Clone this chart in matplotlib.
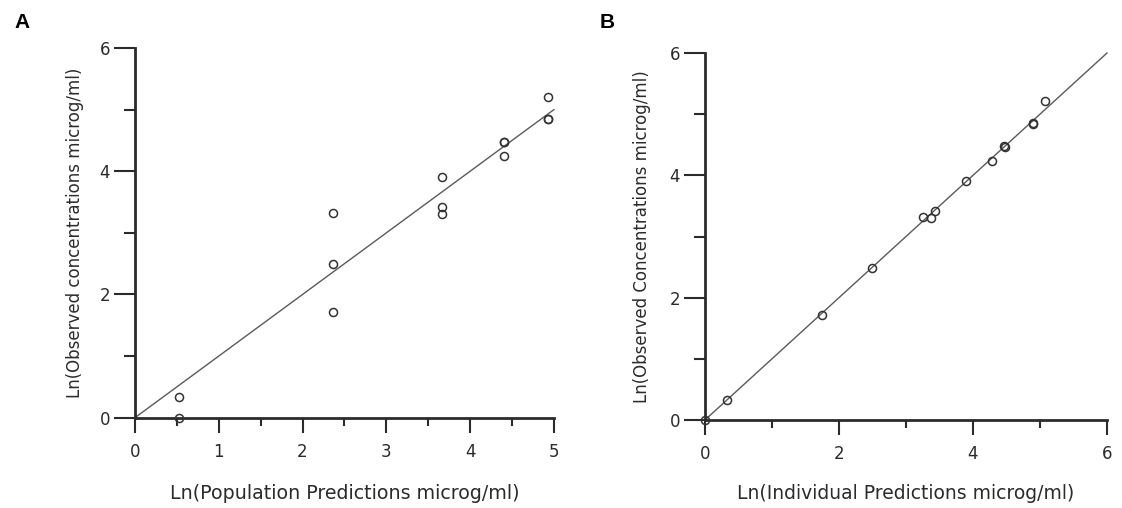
import numpy as np
import matplotlib.pyplot as plt
from matplotlib.ticker import MultipleLocator

# log observed concentrations, shared by both panels
observed = [0.33, 0.0, 3.32, 2.49, 1.72, 3.91, 3.42, 3.31, 4.48, 4.47, 4.24, 5.21, 4.85, 4.84]
# population (typical value) predictions
pop_pred = [0.53, 0.53, 2.36, 2.36, 2.36, 3.67, 3.67, 3.67, 4.41, 4.41, 4.41, 4.93, 4.93, 4.93]
# individual (post hoc) predictions
ind_pred = [0.33, 0.0, 3.26, 2.49, 1.74, 3.89, 3.44, 3.37, 4.47, 4.48, 4.29, 5.08, 4.89, 4.90]

ink = "#2b2b2b"
plt.rcParams["font.family"] = ["DejaVu Sans"]
plt.rcParams["text.color"] = ink

fig = plt.figure(figsize=(11.22, 5.08), dpi=100)
ax_a = fig.add_axes([0.1203, 0.1778, 0.3734, 0.7277])
ax_b = fig.add_axes([0.6283, 0.1732, 0.3583, 0.7224])


def style(ax, xmax, xmajor, xminor):
    ax.set_xlim(0, xmax)
    ax.set_ylim(0, 6)
    ax.xaxis.set_major_locator(MultipleLocator(xmajor))
    ax.xaxis.set_minor_locator(MultipleLocator(xminor))
    ax.yaxis.set_major_locator(MultipleLocator(2))
    ax.yaxis.set_minor_locator(MultipleLocator(1))
    for s in ["top", "right"]:
        ax.spines[s].set_visible(False)
    for s in ["left", "bottom"]:
        ax.spines[s].set_linewidth(2.0)
        ax.spines[s].set_color(ink)
    ax.tick_params(axis="y", which="major", length=15, width=1.5, color=ink,
                   labelsize=12, labelcolor=ink, pad=3)
    ax.tick_params(axis="y", which="minor", length=8, width=1.5, color=ink)
    ax.tick_params(axis="x", which="major", length=11, width=1.5, color=ink,
                   labelsize=12, labelcolor=ink, pad=7)
    ax.tick_params(axis="x", which="minor", length=6, width=1.5, color=ink)


def scatter(ax, x, y, xmax):
    ax.plot([0, xmax], [0, xmax], color="#5a5a5a", lw=1.0, zorder=2, clip_on=False)
    ax.plot(x, y, ls="none", marker="o", ms=5.8, mfc="none", mec="#333333",
            mew=1.1, zorder=3, clip_on=False)


style(ax_a, 5, 1, 0.5)
scatter(ax_a, pop_pred, observed, 5)
ax_a.set_xlabel("Ln(Population Predictions microg/ml)", fontsize=13.7, color=ink, labelpad=17)
ax_a.set_ylabel("Ln(Observed concentrations microg/ml)", fontsize=12, color=ink, labelpad=11)

style(ax_b, 6, 2, 1)
scatter(ax_b, ind_pred, observed, 6)
ax_b.set_xlabel("Ln(Individual Predictions microg/ml)", fontsize=13.5, color=ink, labelpad=15)
ax_b.set_ylabel("Ln(Observed Concentrations microg/ml)", fontsize=12, color=ink, labelpad=13)

fig.text(0.0196, 0.955, "A", fontsize=15, fontweight="bold", color="black",
         ha="center", va="center", family=["Liberation Sans", "DejaVu Sans"])
fig.text(0.541, 0.955, "B", fontsize=15, fontweight="bold", color="black",
         ha="center", va="center", family=["Liberation Sans", "DejaVu Sans"])

fig.savefig("out.png", dpi=100)
